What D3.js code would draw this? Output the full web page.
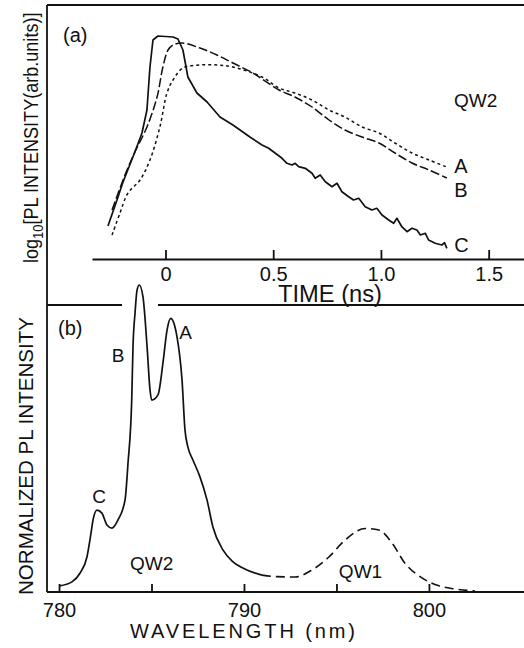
<!DOCTYPE html>
<html>
<head>
<meta charset="utf-8">
<script src="https://cdn.jsdelivr.net/npm/d3@7"></script>
<style>
  html, body { margin: 0; padding: 0; background: #fff; }
  svg { display: block; }
  text { font-family: "Liberation Sans", Arial, sans-serif; fill: #111; }
  .axis path, .axis line { stroke: #111; stroke-width: 1.8; }
  .axis text { font-size: 20px; font-family: "Liberation Sans", Arial, sans-serif; fill: #111; }
</style>
</head>
<body>
<div id="chart"></div>
<script>
// (a) time resolved PL, log10 intensity (arb. units), time in ns
let timeTicks = [0, 0.5, 1.0, 1.5];
let timeTickLabels = ["0", "0.5", "1.0", "1.5"];

let curveA = [[-0.248,0.24],[-0.211,0.46],[-0.174,0.66],[-0.118,0.79],[-0.072,0.99],[-0.026,1.32],
  [0.007,1.66],[0.035,1.79],[0.081,1.91],[0.160,1.94],[0.239,1.94],[0.313,1.92],[0.448,1.82],
  [0.527,1.71],[0.601,1.66],[0.680,1.59],[0.759,1.49],[0.833,1.42],[0.912,1.32],[0.991,1.26],
  [1.065,1.16],[1.144,1.06],[1.223,0.99],[1.306,0.92]];

let curveB = [[-0.248,0.49],[-0.188,0.84],[-0.142,1.07],[-0.086,1.32],[-0.039,1.62],[-0.012,1.92],
  [0.012,2.09],[0.035,2.14],[0.077,2.16],[0.160,2.11],[0.239,2.04],[0.313,1.96],[0.406,1.86],
  [0.448,1.80],[0.527,1.69],[0.601,1.62],[0.680,1.52],[0.759,1.39],[0.833,1.29],[0.912,1.22],
  [0.991,1.16],[1.065,1.06],[1.144,0.96],[1.223,0.89],[1.306,0.81]];

let curveC = [[-0.267,0.33],[-0.225,0.59],[-0.197,0.77],[-0.142,1.07],[-0.109,1.26],[-0.086,1.49],
  [-0.072,1.92],[-0.058,2.19],[-0.035,2.23],[0.035,2.22],[0.058,2.20],[0.081,2.09],[0.104,1.82],
  [0.146,1.66],[0.193,1.57],[0.253,1.42],[0.313,1.34],[0.392,1.22],[0.448,1.14],[0.479,1.107],
  [0.510,1.057],[0.541,1.007],[0.564,0.957],[0.587,0.94],[0.602,0.957],[0.618,0.923],[0.649,0.907],
  [0.680,0.857],[0.695,0.807],[0.718,0.84],[0.742,0.773],[0.773,0.723],[0.796,0.757],[0.819,0.673],
  [0.850,0.623],[0.873,0.59],[0.897,0.607],[0.927,0.523],[0.958,0.49],[0.981,0.507],[1.005,0.44],
  [1.036,0.39],[1.059,0.357],[1.074,0.407],[1.097,0.323],[1.121,0.273],[1.144,0.307],[1.167,0.29],
  [1.183,0.24],[1.206,0.257],[1.221,0.19],[1.252,0.157],[1.283,0.14],[1.295,0.163],[1.306,0.107]];

// (b) normalized PL spectrum, wavelength in nm
let waveTicks = [780, 785, 790, 795, 800];
let spectrumQW2 = [[780.02,0.02],[780.70,0.033],[781.14,0.062],[781.51,0.114],[781.73,0.192],
  [781.84,0.235],[782.05,0.267],[782.32,0.257],[782.59,0.218],[782.86,0.208],[783.19,0.235],
  [783.57,0.30],[783.73,0.42],[783.93,0.625],[784.0,0.80],[784.11,0.909],[784.22,0.984],
  [784.34,1.0],[784.54,0.961],[784.76,0.80],[784.92,0.658],[785.01,0.625],[785.35,0.642],
  [785.62,0.746],[785.84,0.853],[786.04,0.891],[786.27,0.863],[786.38,0.831],[786.65,0.691],
  [786.81,0.528],[786.97,0.472],[787.24,0.430],[787.62,0.375],[788.0,0.30],[788.32,0.212],
  [788.86,0.137],[789.41,0.098],[790.16,0.072],[790.97,0.055]];
let spectrumQW1 = [[790.97,0.055],[791.8,0.050],[792.76,0.049],[793.68,0.072],[794.59,0.114],
  [795.46,0.169],[796.56,0.207],[797.30,0.202],[798.0,0.160],[798.70,0.094],[799.62,0.046],
  [800.54,0.020],[801.41,0.010],[802.49,0.003]];

let width = 524, height = 648;
let left = 47, right = 524;
let topA = 5, axisA = 259;
let topB = 305, axisB = 592;

let svg = d3.select("#chart").append("svg")
  .attr("width", width).attr("height", height);

// scales
let xT = d3.scaleLinear().domain([-0.341, 1.664]).range([92, 524]);
let yT = d3.scaleLinear().domain([0, 2.54]).range([axisA, topA]);
let xW = d3.scaleLinear().domain([779.35, 805.14]).range([left, right]);
let yW = d3.scaleLinear().domain([0, 1]).range([axisB, 285]);

// frame
let frame = svg.append("g").attr("stroke", "#111").attr("stroke-width", 1.8);
frame.append("line").attr("x1", left).attr("x2", left).attr("y1", topA).attr("y2", axisB);
frame.append("line").attr("x1", left).attr("x2", right).attr("y1", topA).attr("y2", topA);
frame.append("line").attr("x1", left).attr("x2", 122).attr("y1", topB).attr("y2", topB);
frame.append("line").attr("x1", 158).attr("x2", right).attr("y1", topB).attr("y2", topB);

// time axis
let tAxis = d3.axisBottom(xT).tickValues(timeTicks)
  .tickFormat((d, i) => timeTickLabels[i])
  .tickSizeInner(-9).tickSizeOuter(0).tickPadding(8);
svg.append("g").attr("class", "axis").attr("transform", "translate(0," + axisA + ")").call(tAxis);

// wavelength axis
let wAxis = d3.axisBottom(xW).tickValues(waveTicks)
  .tickFormat(d => d % 10 === 0 ? d : "")
  .tickSizeInner(-8).tickSizeOuter(0).tickPadding(11);
let wg = svg.append("g").attr("class", "axis").attr("transform", "translate(0," + axisB + ")").call(wAxis);
wg.select(".domain").attr("d", "M" + left + ",0H" + right);

// curves (a)
let lineT = d3.line().x(d => xT(d[0])).y(d => yT(d[1])).curve(d3.curveCatmullRom.alpha(0.5));
let lineC = d3.line().x(d => xT(d[0])).y(d => yT(d[1])).curve(d3.curveLinear);
svg.append("path").datum(curveA).attr("d", lineT)
  .attr("fill", "none").attr("stroke", "#111").attr("stroke-width", 1.5).attr("stroke-dasharray", "3,3");
svg.append("path").datum(curveB).attr("d", lineT)
  .attr("fill", "none").attr("stroke", "#111").attr("stroke-width", 1.5).attr("stroke-dasharray", "9,3");
svg.append("path").datum(curveC).attr("d", lineC)
  .attr("fill", "none").attr("stroke", "#111").attr("stroke-width", 1.7).attr("stroke-linejoin", "round");

// curves (b)
let lineW = d3.line().x(d => xW(d[0])).y(d => yW(d[1])).curve(d3.curveMonotoneX);
svg.append("path").datum(spectrumQW2).attr("d", lineW)
  .attr("fill", "none").attr("stroke", "#111").attr("stroke-width", 1.7);
svg.append("path").datum(spectrumQW1).attr("d", lineW)
  .attr("fill", "none").attr("stroke", "#111").attr("stroke-width", 1.6).attr("stroke-dasharray", "9,5");

// axis titles
svg.append("text").text("TIME (ns)")
  .attr("x", 278).attr("y", 302).attr("font-size", 23)
  .attr("textLength", 104).attr("lengthAdjust", "spacingAndGlyphs");
svg.append("text").text("WAVELENGTH (nm)")
  .attr("x", 130).attr("y", 638).attr("font-size", 20)
  .attr("textLength", 225).attr("lengthAdjust", "spacing");

let yLabA = svg.append("text")
  .attr("transform", "translate(38,263) rotate(-90) scale(0.86,1)")
  .attr("font-size", 21);
yLabA.append("tspan").text("log");
yLabA.append("tspan").text("10").attr("font-size", 15).attr("dy", 5);
yLabA.append("tspan").text("[PL INTENSITY(arb.units)]").attr("dy", -5).attr("font-size", 21);

svg.append("text").text("NORMALIZED PL INTENSITY")
  .attr("transform", "translate(33,595) rotate(-90)")
  .attr("font-size", 21).attr("textLength", 278).attr("lengthAdjust", "spacingAndGlyphs");

// annotations
let notes = [
  ["(a)", 63, 42, 20], ["QW2", 454, 107, 19],
  ["A", xT(1.34), yT(0.86), 20], ["B", xT(1.34), yT(0.62), 20], ["C", xT(1.34), yT(0.07), 20],
  ["(b)", 58, 335, 20],
  ["B", xW(782.85), yW(0.749), 19], ["A", xW(786.5), yW(0.824), 19], ["C", xW(781.79), yW(0.29), 19],
  ["QW2", xW(783.84), yW(0.072), 19], ["QW1", xW(795.13), yW(0.046), 19]
];
svg.selectAll(".note").data(notes).enter().append("text")
  .attr("class", "note")
  .attr("x", d => d[1]).attr("y", d => d[2]).attr("font-size", d => d[3])
  .text(d => d[0]);
</script>
</body>
</html>
